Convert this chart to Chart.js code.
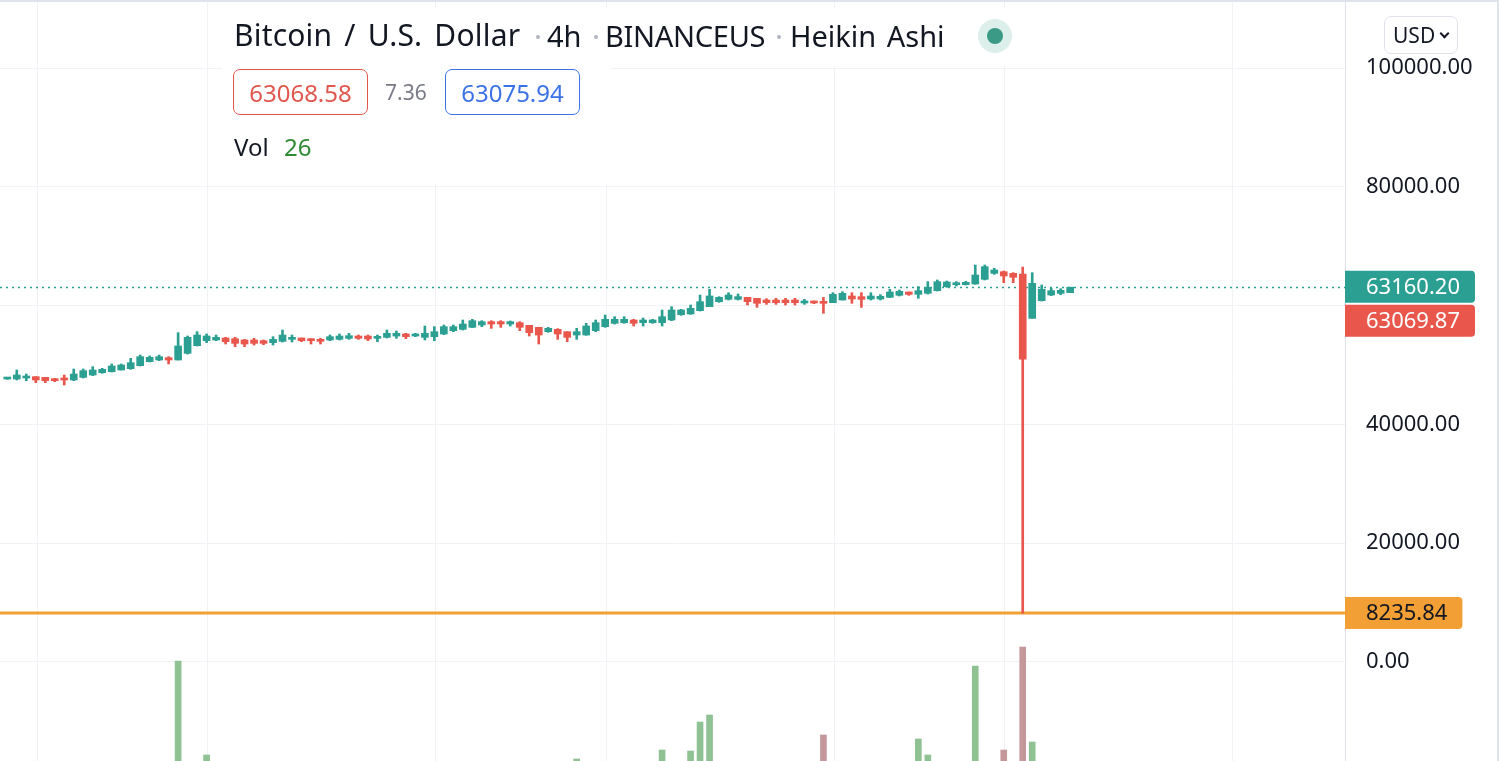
<!DOCTYPE html>
<html><head><meta charset="utf-8">
<script src="https://cdn.jsdelivr.net/npm/chart.js@4.4.1/dist/chart.umd.min.js"></script>
<style>
html,body{margin:0;padding:0;background:#fff;overflow:hidden;}
#wrap{position:relative;width:1499px;height:761px;font-family:"Noto Sans",sans-serif;color:#131722;}
#c{position:absolute;left:0;top:0;}
.abs{position:absolute;white-space:nowrap;}
.bg{position:absolute;background:rgba(255,255,255,0.88);}
.tt{position:absolute;top:16px;font-size:29px;line-height:40px;white-space:nowrap;}
.sep{position:absolute;top:35px;width:4px;height:4px;border-radius:50%;background:#b2b5be;}
.box{position:absolute;top:69px;height:46px;width:135px;box-sizing:border-box;border:1.5px solid;border-radius:7px;font-size:24px;display:flex;align-items:center;justify-content:center;}
#usd{left:1384px;top:16px;width:74px;height:38px;box-sizing:border-box;border:1px solid #e0e3eb;border-radius:7px;font-size:21px;display:flex;align-items:center;padding-left:8px;}
#usd .chev{display:inline-block;width:5px;height:5px;border-right:2px solid #131722;border-bottom:2px solid #131722;transform:rotate(45deg);margin-left:6px;margin-top:-4px;}
</style></head><body>
<div id="wrap">
<canvas id="c" width="1499" height="761" style="width:1499px;height:761px"></canvas>
<div class="abs" style="left:0;top:0;width:1499px;height:2px;background:#e0e3eb"></div>
<div class="abs" style="left:1497px;top:0;width:2px;height:761px;background:#e0e3eb"></div>
<div class="bg" style="left:222px;top:8px;width:800px;height:58px"></div>
<div class="bg" style="left:222px;top:66px;width:390px;height:118px"></div>
<div class="tt" style="left:234px;top:15px;font-size:30px;word-spacing:4px;letter-spacing:0.2px">Bitcoin / U.S. Dollar</div>
<div class="sep" style="left:536px"></div>
<div class="tt" style="left:547px">4h</div>
<div class="sep" style="left:594px"></div>
<div class="tt" style="left:605px;letter-spacing:-0.3px">BINANCEUS</div>
<div class="sep" style="left:777px"></div>
<div class="tt" style="left:790px;word-spacing:3px">Heikin Ashi</div>
<div class="abs" style="left:978px;top:19px;width:34px;height:34px;border-radius:50%;background:#ddefeb"></div>
<div class="abs" style="left:987px;top:28px;width:16px;height:16px;border-radius:50%;background:#3a9a86"></div>
<div class="box" id="bidBox" style="left:233px;border-color:#e0574d;color:#e0574d"></div>
<div class="abs" id="spread" style="left:385px;top:77px;font-size:21px;line-height:30px;color:#787b86"></div>
<div class="box" id="askBox" style="left:445px;border-color:#3b72e6;color:#3b72e6"></div>
<div class="abs" style="left:234px;top:132px;font-size:24px;line-height:30px">Vol</div>
<div class="abs" id="volTxt" style="left:284px;top:132px;font-size:24px;line-height:30px;color:#2e8b35"></div>
<div class="abs" id="usd">USD<span class="chev"></span></div>
</div>
<script>
// ---- data (Heikin Ashi 4h candles, left to right) ----
const haOpen = [47640,47640,47810,48035,47920,47640,47755,47475,47920,48315,
48710,48875,49157,49380,49890,50560,50840,51235,50840,51960,
53255,54095,54210,54545,54430,54210,54210,54095,53760,53985,
54320,54545,54430,54320,54210,54320,54490,54880,54880,54490,
54655,54880,55220,54880,54655,54770,55220,55780,56005,56340,
56735,57295,57295,56900,57125,56680,56340,55610,56005,55610,
55050,55050,55780,56455,57015,57125,57575,57125,57125,57125,
57575,58475,58585,59145,59820,60660,61055,61055,61390,61225,
60940,60940,60940,60940,60440,60660,60660,60495,60940,61615,
61505,61110,61110,61390,61730,62290,61895,62065,62515,63185,
63525,63525,63635,64420,65430,65710,65430,65300,57855,60830,
61785,62065,62180];
const haHigh = [47920,49160,48480,48035,47920,47755,48315,49325,49325,49720,
49440,50170,50170,51120,51680,51515,51680,51400,55440,54880,
55610,55220,55050,54655,54655,54320,54490,54210,54770,55890,
55050,54545,54430,54490,55050,55220,55330,55050,55050,55050,
55890,55725,55330,55330,56565,56455,56735,56735,57575,57690,
57465,57465,57465,57405,57295,56680,56340,56340,56115,55610,
56170,57015,57575,58415,58135,58135,57690,57910,57690,59260,
59820,59370,60100,61785,62740,61505,62175,61950,61390,61225,
61165,61225,61225,61225,61055,60775,61390,62175,62345,62175,
62175,62175,61840,62740,62625,62290,63185,64030,64310,64140,
64030,64085,66835,66835,66275,65825,65545,66500,65545,63470,
62905,62850,63020];
const haLow = [47590,47480,47360,47025,47025,47195,46630,47360,47810,48205,
48595,48820,49157,49270,49830,50505,50730,50170,50840,51850,
53200,53760,54095,53535,53085,53085,53365,53420,53365,53870,
53870,53925,53535,53535,54095,54210,54320,54320,54095,53925,
54545,54490,54430,54770,54210,54095,55105,55610,55890,56285,
56455,56170,56340,56565,55780,54880,53535,55500,54320,53925,
54320,54995,55610,56340,56900,57015,56565,56565,57015,56565,
57465,58360,58530,59090,59820,60550,60940,60940,60100,59710,
60215,60215,60100,60100,60215,60325,58700,60495,60940,60380,
59710,60940,60940,61335,61615,61730,61225,61950,62460,63075,
63300,63470,63580,64310,65265,63860,63860,8235.84,57855,60775,
61670,61840,62180];
const haClose = [47870,48320,48035,47475,47360,47360,47475,48480,49045,49157,
49270,49830,50000,50390,51400,51290,51400,50840,53200,54655,
55050,54880,54655,53925,53645,53535,53645,53645,54320,55050,
54655,54095,54095,53985,54770,54880,54935,54490,54375,54770,
55330,55330,54770,55220,55330,55610,56455,56455,56900,57465,
57295,56900,56900,57295,56340,55445,55050,56170,55220,54655,
55610,56565,57125,57690,57690,57690,57015,57575,57575,58135,
59260,59260,59540,60660,61615,61390,61780,61505,60660,60380,
60495,60495,60495,60495,60775,60440,60380,61895,62065,61110,
61055,61615,61560,62290,62400,61895,62515,63075,64030,63975,
63860,63915,65150,66555,65995,64985,64760,51000,63750,62740,
62515,62570,63100];
const volume = [62,48,55,70,66,41,58,95,88,60,
44,72,51,80,110,64,47,75,350,135,
118,162,70,58,66,52,45,40,63,90,
55,42,48,50,61,57,49,44,46,53,
78,59,47,38,85,92,104,66,98,112,
71,64,60,52,83,121,138,77,96,108,
154,126,131,117,84,69,73,88,62,172,
145,119,170,228,242,104,97,76,89,94,
63,58,55,61,49,44,202,133,102,87,
121,74,57,92,68,71,194,162,139,96,
63,58,340,147,90,172,128,378,188,122,
64,41,26];
const priceTicks = [0,20000,40000,60000,80000,100000];
const dayGridIdx = [3.13,21.13,45.13,63.13,87.13,105.13,129.13];
const lastPrice = 63160.20;
const haLastPrice = 63069.87;
const levelPrice = 8235.84;
const bid = 63068.58, ask = 63075.94, lastVol = 26;

// ---- view / style ----
const UP='#2ba092', DOWN='#e9564c', VUP='#8ec293', VDOWN='#c4979b', GRID='#f0f2f6';
const FONT='"Noto Sans", sans-serif';

document.getElementById('bidBox').textContent = bid.toFixed(2);
document.getElementById('askBox').textContent = ask.toFixed(2);
document.getElementById('spread').textContent = (ask-bid).toFixed(2);
document.getElementById('volTxt').textContent = String(lastVol);

const idx = haOpen.map((_,i)=>i);
const isUp = idx.map(i=>haClose[i]>=haOpen[i]);

function roundTag(ctx,x,y,w,h,r){
  ctx.beginPath();
  ctx.moveTo(x,y);ctx.lineTo(x+w-r,y);ctx.quadraticCurveTo(x+w,y,x+w,y+r);
  ctx.lineTo(x+w,y+h-r);ctx.quadraticCurveTo(x+w,y+h,x+w-r,y+h);
  ctx.lineTo(x,y+h);ctx.closePath();
}

const overlay = {
  id:'overlay',
  beforeDatasetsDraw(chart){
    const {ctx, chartArea:a, scales:{y}} = chart;
    ctx.save();
    const yl = y.getPixelForValue(levelPrice);
    ctx.strokeStyle='#f3a033'; ctx.lineWidth=3;
    ctx.beginPath(); ctx.moveTo(a.left,yl); ctx.lineTo(a.right,yl); ctx.stroke();
    const yp = Math.round(y.getPixelForValue(lastPrice))+0.5;
    ctx.setLineDash([2,4]); ctx.lineWidth=1.5; ctx.strokeStyle=UP;
    ctx.beginPath(); ctx.moveTo(a.left,yp); ctx.lineTo(a.right,yp); ctx.stroke();
    ctx.restore();
  },
  afterDraw(chart){
    const {ctx, chartArea:a, scales:{y}} = chart;
    ctx.save();
    ctx.font='22px '+FONT; ctx.textBaseline='middle'; ctx.textAlign='left';
    const x0=a.right, tx=x0+21, H=32;
    const tag=(val,cy,bg,fg)=>{
      const t=val.toFixed(2); const w=ctx.measureText(t).width+21+15;
      ctx.fillStyle=bg; roundTag(ctx,x0,cy-H/2,w,H,4); ctx.fill();
      ctx.fillStyle=fg; ctx.fillText(t,tx,cy+1);
    };
    const yp=y.getPixelForValue(lastPrice);
    tag(lastPrice,yp,UP,'#ffffff');
    tag(haLastPrice,yp+34,DOWN,'#ffffff');
    tag(levelPrice,y.getPixelForValue(levelPrice),'#f2a035','#131722');
    ctx.restore();
  }
};

new Chart(document.getElementById('c'),{
  type:'bar',
  data:{
    datasets:[
      {label:'body', order:0, xAxisID:'x', yAxisID:'y',
       data:idx.map(i=>({x:i,y:[Math.min(haOpen[i],haClose[i]),Math.max(haOpen[i],haClose[i])]})),
       backgroundColor:idx.map(i=>isUp[i]?UP:DOWN), barThickness:7, minBarLength:2, grouped:false},
      {label:'wick', order:1, xAxisID:'x', yAxisID:'y',
       data:idx.map(i=>({x:i,y:[haLow[i],haHigh[i]]})),
       backgroundColor:idx.map(i=>isUp[i]?UP:DOWN), barThickness:2, grouped:false},
      {label:'volume', order:2, xAxisID:'x', yAxisID:'vol',
       data:idx.map(i=>({x:i,y:volume[i]})),
       backgroundColor:idx.map(i=>isUp[i]?VUP:VDOWN), barThickness:6, grouped:false}
    ]
  },
  options:{
    responsive:false, animation:false, events:[],
    layout:{padding:0},
    plugins:{legend:{display:false},tooltip:{enabled:false}},
    scales:{
      x:{type:'linear', min:-0.77, max:140.96, offset:false,
         grid:{color:GRID, drawTicks:false, lineWidth:1, offset:false},
         border:{display:false}, ticks:{display:false},
         afterBuildTicks:s=>{s.ticks=dayGridIdx.map(v=>({value:v}));},
         afterFit:s=>{s.height=0;s.paddingLeft=0;s.paddingRight=0;}},
      y:{position:'right', min:-16667, max:111448,
         grid:{color:GRID, drawTicks:false, lineWidth:1},
         border:{display:true,color:'#e0e3eb',width:1},
         ticks:{padding:21,color:'#131722',font:{size:22,family:FONT},
                callback:v=>Math.abs(v-lastPrice)<6000?'':Number(v).toFixed(2)},
         afterBuildTicks:s=>{s.ticks=priceTicks.map(v=>({value:v}));},
         afterFit:s=>{s.width=154;s.paddingTop=0;s.paddingBottom=0;}},
      vol:{display:false, min:150, max:1672}
    }
  },
  plugins:[overlay]
});
</script>
</body></html>
